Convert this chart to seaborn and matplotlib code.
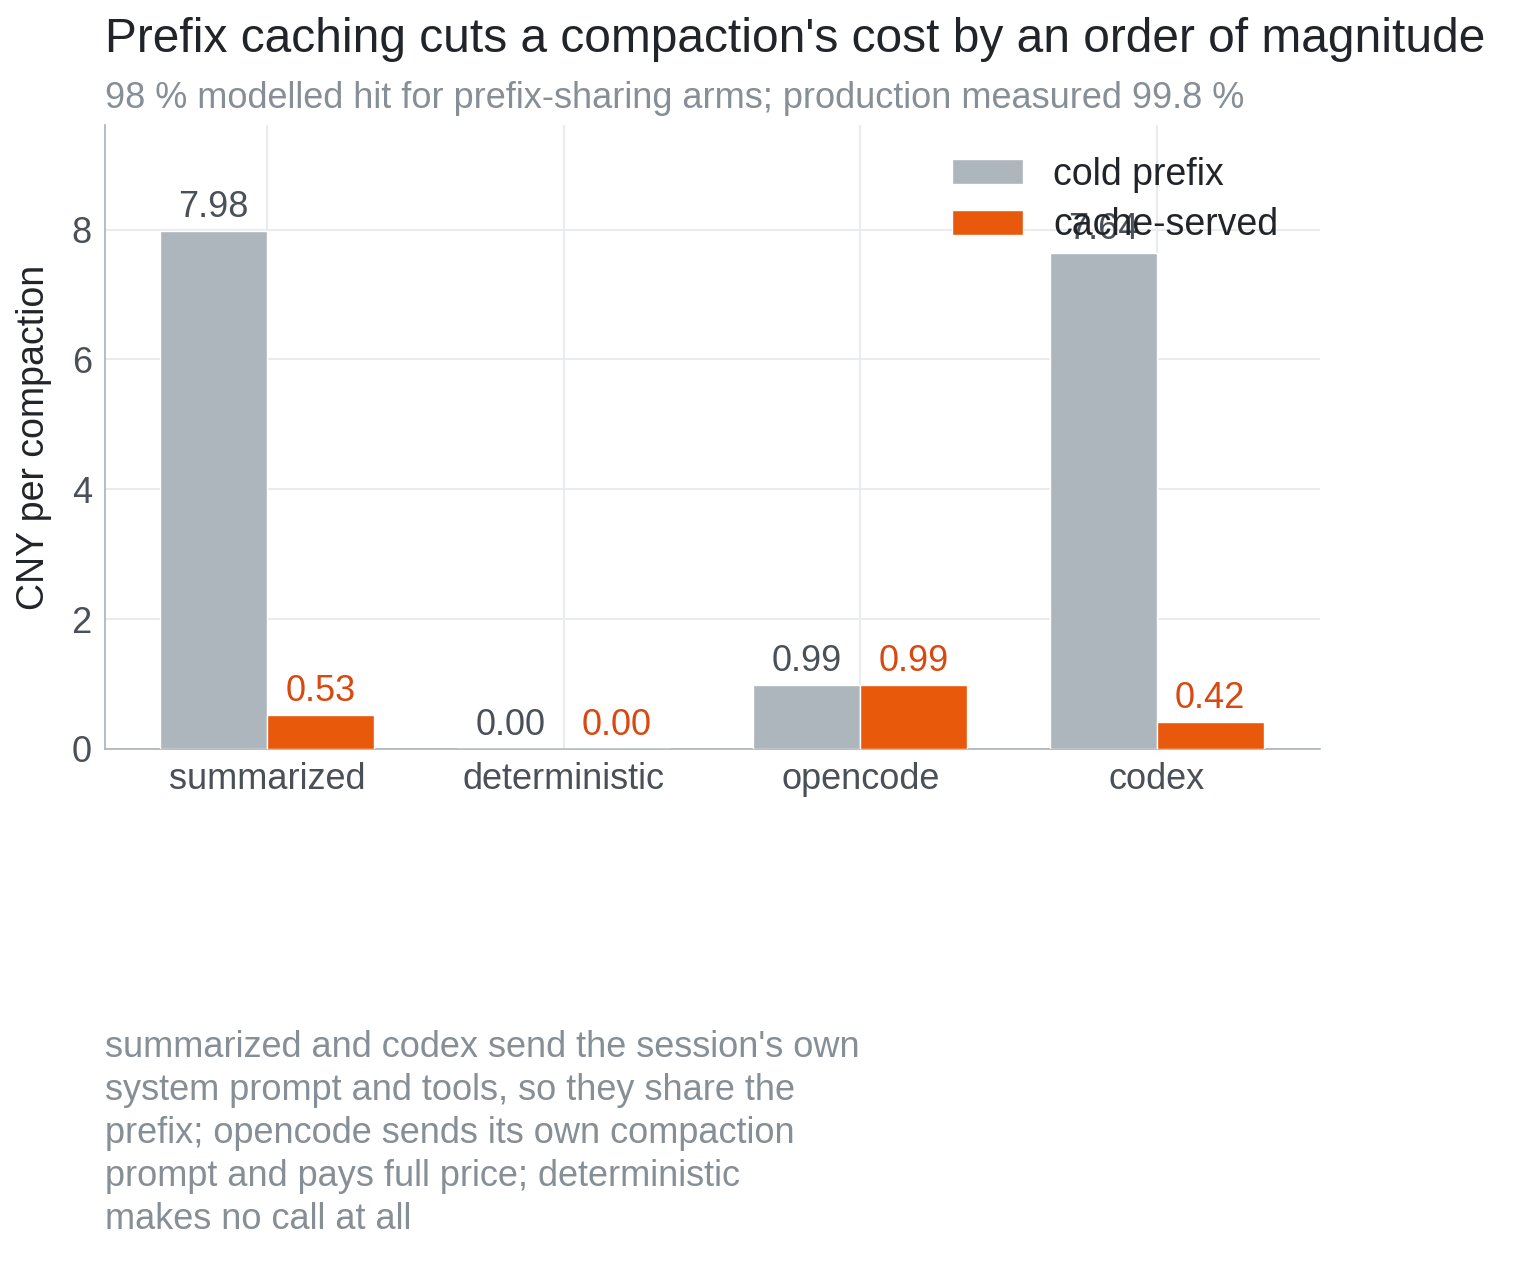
import pandas as pd
import matplotlib
matplotlib.use('Agg')
import matplotlib.pyplot as plt
import seaborn as sns

categories = ['summarized', 'deterministic', 'opencode', 'codex']
cold_prefix = [7.98, 0.00, 0.99, 7.64]
cache_served = [0.53, 0.00, 0.99, 0.42]
series_names = ['cold prefix', 'cache-served']

df = pd.DataFrame({
    'arm': categories * 2,
    'cost': cold_prefix + cache_served,
    'series': [series_names[0]] * 4 + [series_names[1]] * 4,
})

sns.set_theme(style='white')
plt.rcParams['font.family'] = ['Liberation Sans', 'DejaVu Sans']

fig = plt.figure(figsize=(15.15, 12.84), dpi=100)
ax = fig.add_axes([105 / 1515, 1 - 749 / 1284, 1215 / 1515, 624 / 1284])

palette = {'cold prefix': '#adb5bd', 'cache-served': '#e8590c'}
sns.barplot(data=df, x='arm', y='cost', hue='series', palette=palette,
            width=0.72, saturation=1, ax=ax, zorder=3)

label_colors = ['#495057', '#d9480f']
for cont, col in zip(ax.containers, label_colors):
    ax.bar_label(cont, fmt='%.2f', padding=4, fontsize=26, color=col)

ax.set_xlim(-0.546, 3.55)
ax.set_ylim(0, 9.61)
ax.set_yticks([0, 2, 4, 6, 8])
ax.set_xlabel('')
ax.set_ylabel('CNY per compaction', fontsize=27, color='#212529', labelpad=14)
ax.tick_params(axis='both', labelsize=26, colors='#495057', length=6)
ax.tick_params(axis='both', color='#adb5bd')
ax.grid(True, color='#e9ecef', linewidth=1.5, zorder=0)
for s in ['top', 'right']:
    ax.spines[s].set_visible(False)
for s in ['left', 'bottom']:
    ax.spines[s].set_color('#adb5bd')

leg = ax.legend(loc='upper left', frameon=False, fontsize=27,
                handlelength=1.9, handleheight=0.65, labelspacing=0.38,
                handletextpad=0.8, borderpad=0, borderaxespad=0,
                bbox_to_anchor=(952 / 1515, 1 - 157 / 1284),
                bbox_transform=fig.transFigure)
for t in leg.get_texts():
    t.set_color('#212529')

fig.text(105 / 1515, 1 - 40 / 1284, "Prefix caching cuts a compaction's cost by an order of magnitude",
         fontsize=34.5, color='#212529', va='center')
fig.text(105 / 1515, 1 - 98 / 1284, '98 % modelled hit for prefix-sharing arms; production measured 99.8 %',
         fontsize=26, color='#868e96', va='center')
fig.text(105 / 1515, 1 - 1030 / 1284,
         "summarized and codex send the session's own\nsystem prompt and tools, so they share the\n"
         "prefix; opencode sends its own compaction\nprompt and pays full price; deterministic\nmakes no call at all",
         fontsize=26, color='#868e96', va='top', linespacing=1.3)

fig.savefig('out.png', dpi=100)
